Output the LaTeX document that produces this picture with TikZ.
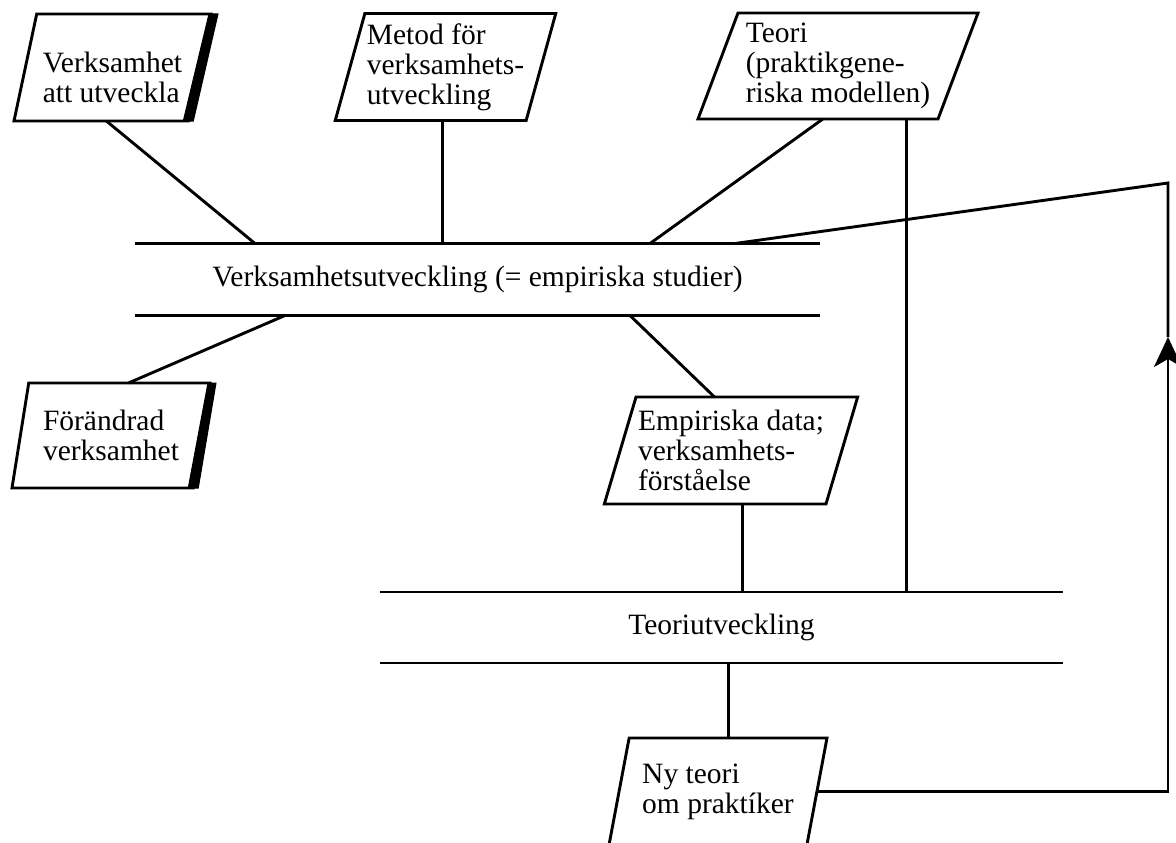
\documentclass[tikz,border=0pt]{standalone}
\usepackage{fontspec}
\setmainfont{Liberation Serif}
\usetikzlibrary{shapes.geometric,calc,arrows.meta}

\tikzset{
  indata/.style={draw, trapezium, trapezium stretches body=true,
    minimum height=107pt, align=left, inner sep=2pt, outer sep=0pt},
  process/.style={minimum height=72pt, inner sep=0pt, outer sep=0pt},
  heavy/.style={fill=black, draw=black}
}

\begin{document}
\begin{tikzpicture}[x=1pt,y=-1pt,line width=2.9pt,
    font=\fontsize{29.5}{30}\selectfont]
  \useasboundingbox (0,0) rectangle (1176,843);

  % in-data
  \node[indata, trapezium left angle=73, trapezium right angle=107,
    minimum width=197pt] (verk) at (112.5,67.5) {\rule{0pt}{40pt}Verksamhet\\att utveckla};
  \node[indata, trapezium left angle=72, trapezium right angle=108,
    minimum width=213pt] (metod) at (445.5,67) {Metod för\\verksamhets-\\utveckling};
  \node[indata, trapezium left angle=66, trapezium right angle=114,
    minimum width=280pt, minimum height=106pt] (teori) at (838,66)
    {Teori\\(praktikgene-\\riska modellen)};

  % processer
  \node[process, minimum width=685pt] (vu) at (477.5,279.5)
    {Verksamhetsutveckling (= empiriska studier)};
  \draw (vu.north west) -- (vu.north east);
  \draw (vu.south west) -- (vu.south east);

  \node[process, minimum width=683pt, minimum height=71pt] (tu) at (721.5,627.5)
    {Teoriutveckling};
  \draw (tu.north west) -- (tu.north east);
  \draw (tu.south west) -- (tu.south east);

  % ut-data
  \node[indata, trapezium left angle=73, trapezium right angle=107,
    minimum width=198pt, minimum height=105pt] (foer) at (111,435.5)
    {Förändrad\\verksamhet};
  \node[indata, trapezium left angle=69.5, trapezium right angle=110.5,
    minimum width=238pt] (emp) at (731,450.5)
    {Empiriska data;\\verksamhets-\\förståelse};
  \node[indata, trapezium left angle=71.4, trapezium right angle=108.6,
    minimum width=218pt] (ny) at (718,791.5) {Ny teori\\om praktíker};

  % tjocka kanter
  \draw[heavy, line width=1pt] ([xshift=-2pt]verk.top right corner) -- ([xshift=7pt]verk.top right corner)
    -- ([xshift=5pt]verk.bottom right corner) -- ([xshift=-5pt]verk.bottom right corner) -- cycle;
  \draw[heavy, line width=1pt] ([xshift=-2pt]foer.top right corner) -- ([xshift=6pt]foer.top right corner)
    -- ([xshift=5pt]foer.bottom right corner) -- ([xshift=-5pt]foer.bottom right corner) -- cycle;

  % kopplingar
  \coordinate (m1) at ($(metod.bottom left corner)!0.564!(metod.bottom right corner)$);
  \coordinate (t2) at ($(teori.bottom left corner)!0.87!(teori.bottom right corner)$);
  \coordinate (e1) at ($(emp.bottom left corner)!0.625!(emp.bottom right corner)$);
  \coordinate (top) at (1168,183);
  \coordinate (pil) at (1168,337);

  \draw ($(verk.bottom left corner)!0.53!(verk.bottom right corner)$) -- ([xshift=120pt]vu.north west);
  \draw (m1) -- (m1 |- vu.north);
  \draw ($(teori.bottom left corner)!0.52!(teori.bottom right corner)$) -- ([xshift=515pt]vu.north west);
  \draw (t2) -- (t2 |- tu.north);
  \draw ([xshift=150pt]vu.south west) -- ($(foer.top left corner)!0.55!(foer.top right corner)$);
  \draw ([xshift=495pt]vu.south west) -- ($(emp.top left corner)!0.354!(emp.top right corner)$);
  \draw (e1) -- (e1 |- tu.north);
  \draw (ny.top side) -- (ny.top side |- tu.south);

  \draw[-{Stealth[length=30pt,width=28pt,inset=8pt]}] (ny.right side) -| (pil);
  \draw (pil) -- (top) -- ([xshift=600pt]vu.north west);
\end{tikzpicture}
\end{document}
